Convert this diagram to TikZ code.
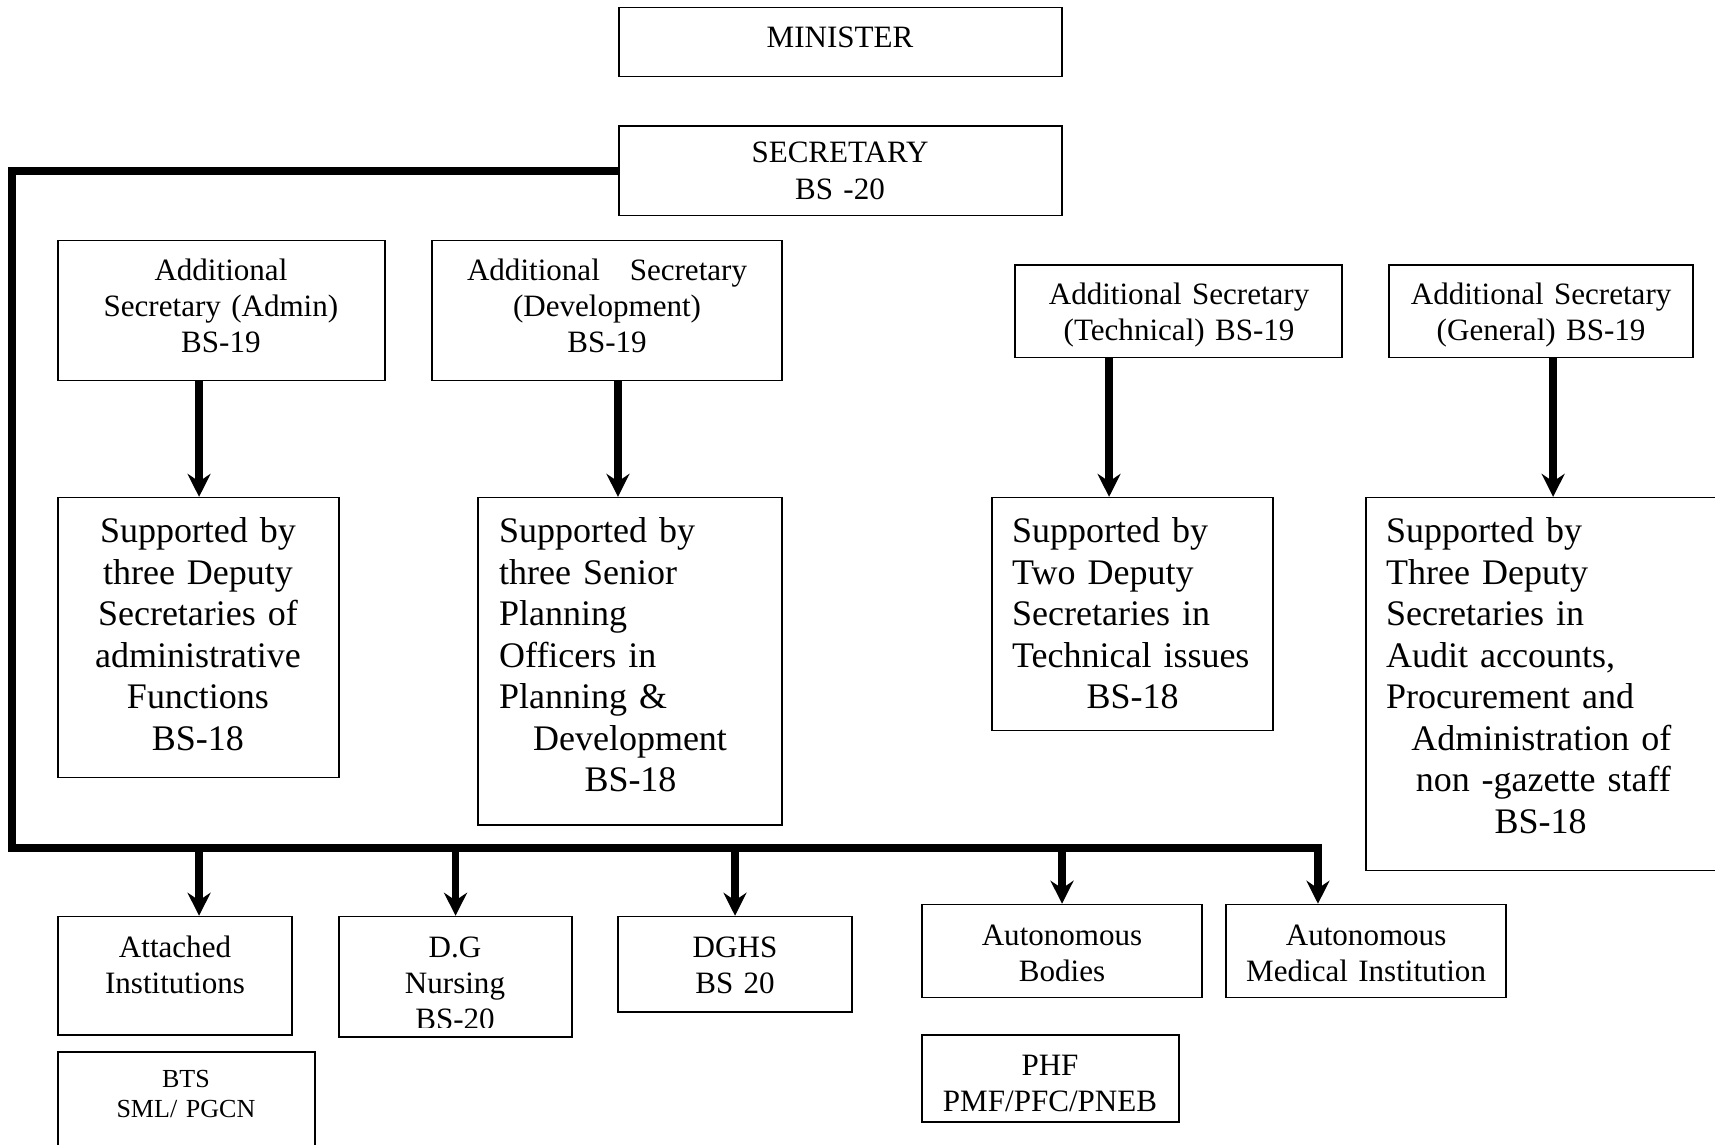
\documentclass[tikz,border=0pt]{standalone}
\usepackage{fontspec}
\setmainfont{Liberation Serif}
\usetikzlibrary{arrows.meta,fit}

\begin{document}
\begin{tikzpicture}[x=0.5pt,y=-0.5pt,
  box/.style={draw, line width=0.75pt, inner sep=0pt},
  lbl/.style={inner sep=0pt, font=\fontsize{14.2pt}{16.5pt}\selectfont, align=center, text width=170pt, anchor=base},
  sml/.style={lbl, font=\fontsize{11.9pt}{13.7pt}\selectfont},
  big/.style={inner sep=0pt, font=\fontsize{16.45pt}{19pt}\selectfont, align=left, text width=170pt, anchor=base west},
  bigc/.style={big, align=center, anchor=base},
  tip/.style={-{Stealth[length=10.5pt,width=10.5pt,inset=3.5pt]}},
  link/.style={line width=3.4pt, tip},
  bus/.style={line width=3.6pt, line join=miter},
]
\useasboundingbox (0,0) rectangle (1568,1046);
\clip (0,0) rectangle (1568,1046);

% top of the hierarchy
\node[box, fit={(566,7) (971,70)}] (minister) {};
\node[lbl] (minister-t) at (768,43) {MINISTER};
\node[box, fit={(566,115) (971,197)}] (secretary) {};
\node[lbl] (secretary-t) at (768,149) {SECRETARY\\BS -20};

% additional secretaries
\node[box, fit={(53,220) (352,348)}] (asAdmin) {};
\node[lbl] (asAdmin-t) at (202,256) {Additional\\Secretary (Admin)\\BS-19};
\node[box, fit={(395,220) (715,348)}] (asDev) {};
\node[lbl] (asDev-t) at (555,256) {\makebox[128pt]{Additional\hfill Secretary}\\(Development)\\BS-19};
\node[box, fit={(928,242) (1227,327)}] (asTech) {};
\node[lbl] (asTech-t) at (1078,278) {Additional Secretary\\(Technical) BS-19};
\node[box, fit={(1270,242) (1548,327)}] (asGen) {};
\node[lbl] (asGen-t) at (1409,278) {Additional Secretary\\(General) BS-19};

% supporting staff
\node[box, fit={(53,455) (310,711)}] (supAdmin) {};
\node[bigc] (supAdmin-t) at (181,496) {Supported by\\three Deputy\\Secretaries of\\administrative\\Functions\\BS-18};
\node[box, fit={(437,455) (715,754)}] (supDev) {};
\node[big] (supDev-t) at (456,496) {Supported by\\three Senior\\Planning\\Officers in\\Planning \&\\\hspace*{15.5pt}Development\\\hspace*{39pt}BS-18};
\node[box, fit={(907,455) (1164,668)}] (supTech) {};
\node[big] (supTech-t) at (925,496) {Supported by\\Two Deputy\\Secretaries in\\Technical issues\\\hspace*{34pt}BS-18};
\node[box, fit={(1249,455) (1600,796)}] (supGen) {};
\node[big] (supGen-t) at (1267,496) {Supported by\\Three Deputy\\Secretaries in\\Audit accounts,\\Procurement and\\\hspace*{11.5pt}Administration of\\\hspace*{13.5pt}non -gazette staff\\\hspace*{49.5pt}BS-18};

% attached and autonomous bodies
\node[box, fit={(53,838) (267,946)}] (attached) {};
\node[lbl] (attached-t) at (160,875) {Attached\\Institutions};
\node[box, fit={(310,838) (523,948)}] (dgn) {};
\begin{scope}
  \clip (310,838) rectangle (523,939.5);
  \node[lbl] (dgn-t) at (416,875) {D.G\\Nursing\\BS-20};
\end{scope}
\node[box, fit={(565,838) (779,925)}] (dghs) {};
\node[lbl] (dghs-t) at (672,875) {DGHS\\BS 20};
\node[box, fit={(843,827) (1099,912)}] (autoBod) {};
\node[lbl] (autoBod-t) at (971,864) {Autonomous\\Bodies};
\node[box, fit={(1121,827) (1377,912)}] (autoMed) {};
\node[lbl] (autoMed-t) at (1249,864) {Autonomous\\Medical Institution};
\node[box, fit={(53,962) (288,1070)}] (bts) {};
\node[sml] (bts-t) at (170,994) {BTS\\SML/ PGCN};
\node[box, fit={(843,946) (1078,1026)}] (phf) {};
\node[lbl] (phf-t) at (960,983) {PHF\\PMF/PFC/PNEB};

% routing points of the main line
\coordinate (busTL) at (11,156);
\coordinate (busBL) at (11,775);
\coordinate (busBR) at (1205,775);
\coordinate (xAtt) at (182,0);
\coordinate (xDev) at (565,0);
\coordinate (xTech) at (1014,0);
\coordinate (xGen) at (1420,0);

% secretary to the attached and autonomous bodies
\draw[bus, tip] (secretary.west |- busTL) -- (busTL) -- (busBL) -- (busBR) -- (busBR |- autoMed.north);
\draw[link] (xAtt |- busBL) -- (xAtt |- attached.north);
\draw[link] (dgn.north |- busBL) -- (dgn.north);
\draw[link] (dghs.north |- busBL) -- (dghs.north);
\draw[link] (autoBod.north |- busBL) -- (autoBod.north);

% additional secretaries to their support
\draw[link] (xAtt |- asAdmin.south) -- (xAtt |- supAdmin.north);
\draw[link] (xDev |- asDev.south) -- (xDev |- supDev.north);
\draw[link] (xTech |- asTech.south) -- (xTech |- supTech.north);
\draw[link] (xGen |- asGen.south) -- (xGen |- supGen.north);
\end{tikzpicture}
\end{document}
